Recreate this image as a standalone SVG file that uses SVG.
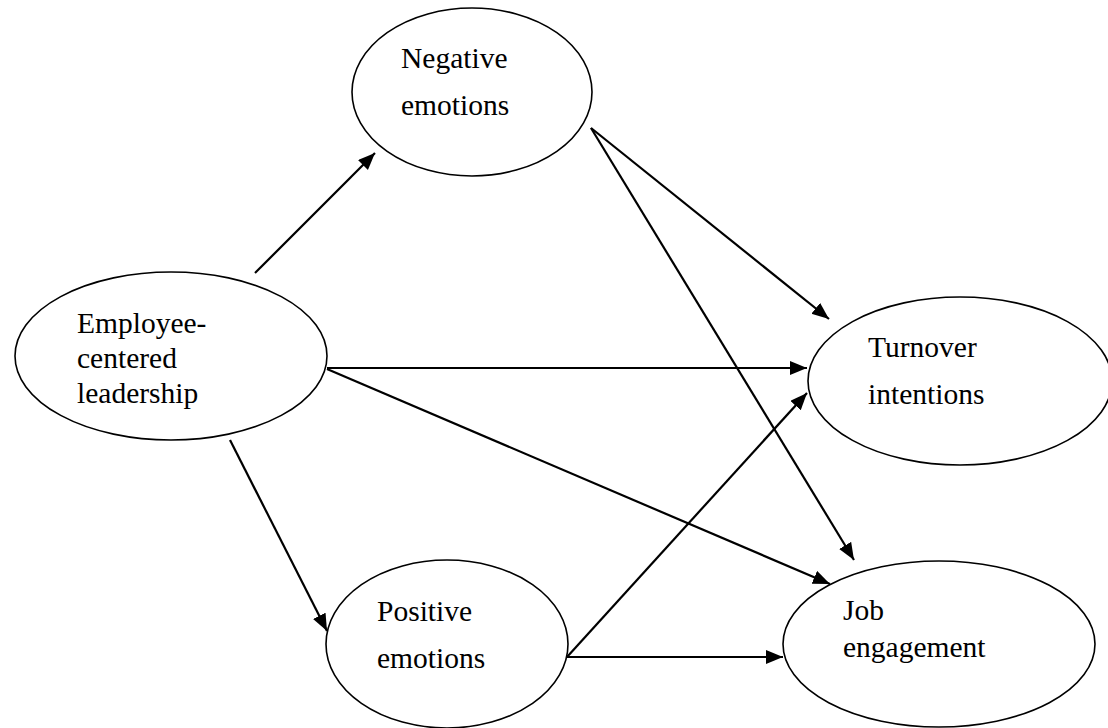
<svg xmlns="http://www.w3.org/2000/svg" width="1108" height="728" viewBox="0 0 1108 728">
<style>
.node ellipse{fill:#fff;stroke:#000;stroke-width:1.6}
.node text{font-family:"Liberation Serif","Times New Roman",serif;font-size:29.5px;fill:#000}
#edges line{stroke:#000;stroke-width:2.2}
</style>
<defs>
<marker id="ah" markerUnits="userSpaceOnUse" markerWidth="18" markerHeight="15" refX="17" refY="7" orient="auto">
<path d="M0,0 L17,7 L0,14 z" fill="#000"/>
</marker>
</defs>
<rect width="1108" height="728" fill="#fff"/>
<g id="n-employee" class="node">
<ellipse cx="171" cy="356" rx="156" ry="84"/>
<text x="77" y="333">Employee-</text>
<text x="77" y="368">centered</text>
<text x="77" y="403">leadership</text>
</g>
<g id="n-negative" class="node">
<ellipse cx="472" cy="92" rx="120" ry="84"/>
<text x="401" y="68">Negative</text>
<text x="401" y="115">emotions</text>
</g>
<g id="n-positive" class="node">
<ellipse cx="447" cy="644" rx="121" ry="84"/>
<text x="377" y="621">Positive</text>
<text x="377" y="668">emotions</text>
</g>
<g id="n-turnover" class="node">
<ellipse cx="960" cy="381" rx="152" ry="84"/>
<text x="868" y="357">Turnover</text>
<text x="868" y="404">intentions</text>
</g>
<g id="n-job" class="node">
<ellipse cx="939" cy="644" rx="156" ry="83"/>
<text x="843" y="620">Job</text>
<text x="843" y="657">engagement</text>
</g>
<g id="edges">
<line x1="255" y1="273" x2="375" y2="153" marker-end="url(#ah)"/>
<line x1="591" y1="128" x2="829" y2="319" marker-end="url(#ah)"/>
<line x1="591" y1="128" x2="854" y2="560" marker-end="url(#ah)"/>
<line x1="327" y1="368" x2="807" y2="368" marker-end="url(#ah)"/>
<line x1="327" y1="369" x2="830" y2="584" marker-end="url(#ah)"/>
<line x1="230" y1="440" x2="327" y2="631" marker-end="url(#ah)"/>
<line x1="567" y1="657" x2="807" y2="393" marker-end="url(#ah)"/>
<line x1="567" y1="657" x2="783" y2="657" marker-end="url(#ah)"/>
</g>
</svg>
